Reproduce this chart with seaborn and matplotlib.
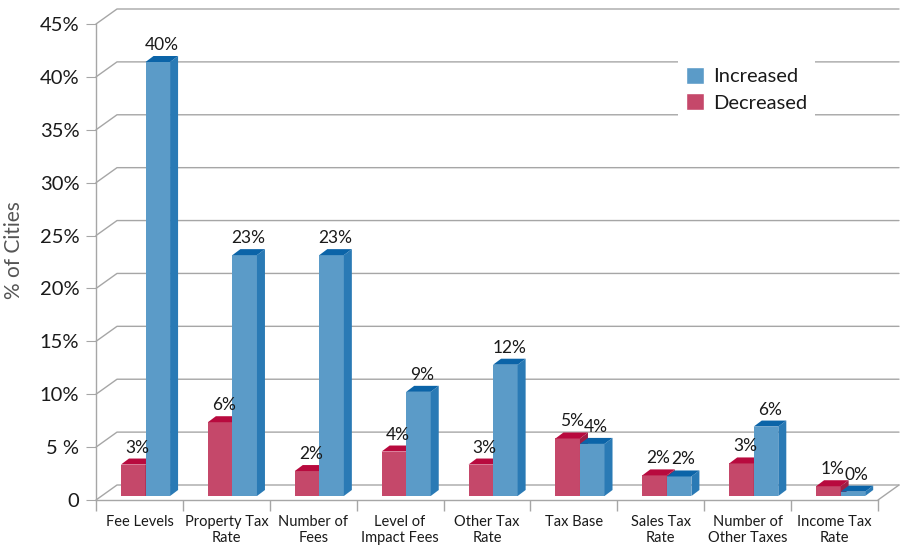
import numpy as np
import pandas as pd
import matplotlib
matplotlib.use("Agg")
import matplotlib.pyplot as plt
from matplotlib.lines import Line2D
from matplotlib.patches import Polygon, Patch
import seaborn as sns

# dados
categorias = ["Fee Levels", "Property Tax\nRate", "Number of\nFees", "Level of\nImpact Fees",
              "Other Tax\nRate", "Tax Base", "Sales Tax\nRate", "Number of\nOther Taxes",
              "Income Tax\nRate"]
decreased = [2.9, 6.8, 2.3, 4.1, 2.9, 5.3, 1.9, 3.0, 0.9]
increased = [40.0, 22.2, 22.2, 9.6, 12.1, 4.8, 1.8, 6.4, 0.4]
rot_decreased = ["3%", "6%", "2%", "4%", "3%", "5%", "2%", "3%", "1%"]
rot_increased = ["40%", "23%", "23%", "9%", "12%", "4%", "2%", "6%", "0%"]
y_ticks = [0, 5, 10, 15, 20, 25, 30, 35, 40, 45]
y_ticklabels = ["0", "5 %", "10%", "15%", "20%", "25%", "30%", "35%", "40%", "45%"]

df = pd.DataFrame({
    "Categoria": categorias * 2,
    "Valor": decreased + increased,
    "Tipo": ["Decreased"] * len(categorias) + ["Increased"] * len(categorias),
})

sns.set_style("white")
plt.rcParams["font.family"] = ["Lato", "DejaVu Sans"]

cinza = "#a6a6a6"
texto = "#1a1a1a"
cores = {"Decreased": "#c5486a", "Increased": "#5b9bc8"}
cor_topo = {"Decreased": "#b80a3e", "Increased": "#0b64a8"}
cor_lado = {"Decreased": "#9e1e45", "Increased": "#2a7ab5"}

W, H = 904, 548
fig = plt.figure(figsize=(W / 100, H / 100), dpi=100)
ax = fig.add_axes([96 / W, 48 / H, 782 / W, 476 / H])
ax.patch.set_visible(False)
bax = ax.twinx()

sns.barplot(data=df, x="Categoria", y="Valor", hue="Tipo", hue_order=["Decreased", "Increased"],
            palette=cores, width=0.565, saturation=1, legend=False, ax=bax)

x_lo, x_hi = -0.57, 8.43
ax.set_xlim(x_lo, x_hi)
ax.set_ylim(0, 45)
bax.set_ylim(-4 / 10.85, 472 / 10.85)
bax.set_xlim(x_lo, x_hi)
bax.axis("off")

ax.set_yticks(y_ticks, y_ticklabels)
ax.tick_params(axis="y", length=7, color=cinza, labelsize=14.5, labelcolor=texto, pad=5, left=True)
ax.set_xticks(np.arange(len(categorias)) - 0.07, categorias)
ax.tick_params(axis="x", length=0, labelsize=10.5, labelcolor=texto, pad=11)
ax.set_xticks(np.arange(len(categorias) + 1) + x_lo, minor=True)
ax.tick_params(axis="x", which="minor", length=8, color=cinza, width=1, bottom=True)
ax.set_xlabel("")
for s in ["top", "right"]:
    ax.spines[s].set_visible(False)
for s in ["left", "bottom"]:
    ax.spines[s].set_color(cinza)
    ax.spines[s].set_linewidth(1)
ax.set_ylabel("% of Cities", fontsize=15, color="#555555")
ax.yaxis.set_label_coords(-(96 - 24) / 782, (500 - 250) / 476)

# parede do fundo (efeito 3D)
px_prof, py_prof = 21, 15
x_front = ax.transData.transform((x_lo, 0))[0]
x_right = ax.transData.transform((x_hi, 0))[0]
for yv in y_ticks:
    yd = ax.transData.transform((x_lo, yv))[1]
    fig.add_artist(Line2D([x_front, x_front + px_prof, x_right + px_prof],
                          [yd, yd + py_prof, yd + py_prof],
                          transform=None, color=cinza, lw=1, zorder=-1))
y0d = ax.transData.transform((x_lo, 0))[1]
fig.add_artist(Line2D([x_right, x_right + px_prof], [y0d, y0d + py_prof],
                      transform=None, color=cinza, lw=1, zorder=-1))

# faces de topo e lado das barras
dx, dy = 8, 6
tipos = ["Decreased"] * len(categorias) + ["Increased"] * len(categorias)
rotulos = rot_decreased + rot_increased
for i, (p, tipo, rot) in enumerate(zip(bax.patches, tipos, rotulos)):
    z = 2 if tipo == "Decreased" else 3
    p.set_zorder(z)
    p.set_edgecolor("none")
    bb = p.get_bbox()
    (x0, y0), (x1, y1) = bax.transData.transform([(bb.x0, bb.y0), (bb.x1, bb.y1)])
    lado = Polygon([(x1, y0), (x1 + dx, y0 + dy), (x1 + dx, y1 + dy), (x1, y1)],
                   closed=True, transform=None, facecolor=cor_lado[tipo], edgecolor="none",
                   zorder=z + 0.1, clip_on=False)
    topo = Polygon([(x0, y1), (x1, y1), (x1 + dx, y1 + dy), (x0 + dx, y1 + dy)],
                   closed=True, transform=None, facecolor=cor_topo[tipo], edgecolor="none",
                   zorder=z + 0.2, clip_on=False)
    bax.add_artist(lado)
    bax.add_artist(topo)
    fx, fy = fig.transFigure.inverted().transform(((x0 + x1) / 2 + dx / 2, y1 + dy + 3))
    fig.text(fx, fy, rot, ha="center", va="bottom", fontsize=12.5, color=texto)

handles = [Patch(facecolor=cores["Increased"], label="Increased"),
           Patch(facecolor=cores["Decreased"], label="Decreased")]
leg = fig.legend(handles=handles, loc="upper left", bbox_to_anchor=(668 / W, 1 - 49 / H),
                 frameon=True, facecolor="white", edgecolor="none", framealpha=1,
                 fontsize=14.5, handlelength=0.9, handleheight=0.9, handletextpad=0.45,
                 labelspacing=0.4, borderpad=0.4, fancybox=False)
for t in leg.get_texts():
    t.set_color(texto)

fig.savefig("out.png", dpi=100)
